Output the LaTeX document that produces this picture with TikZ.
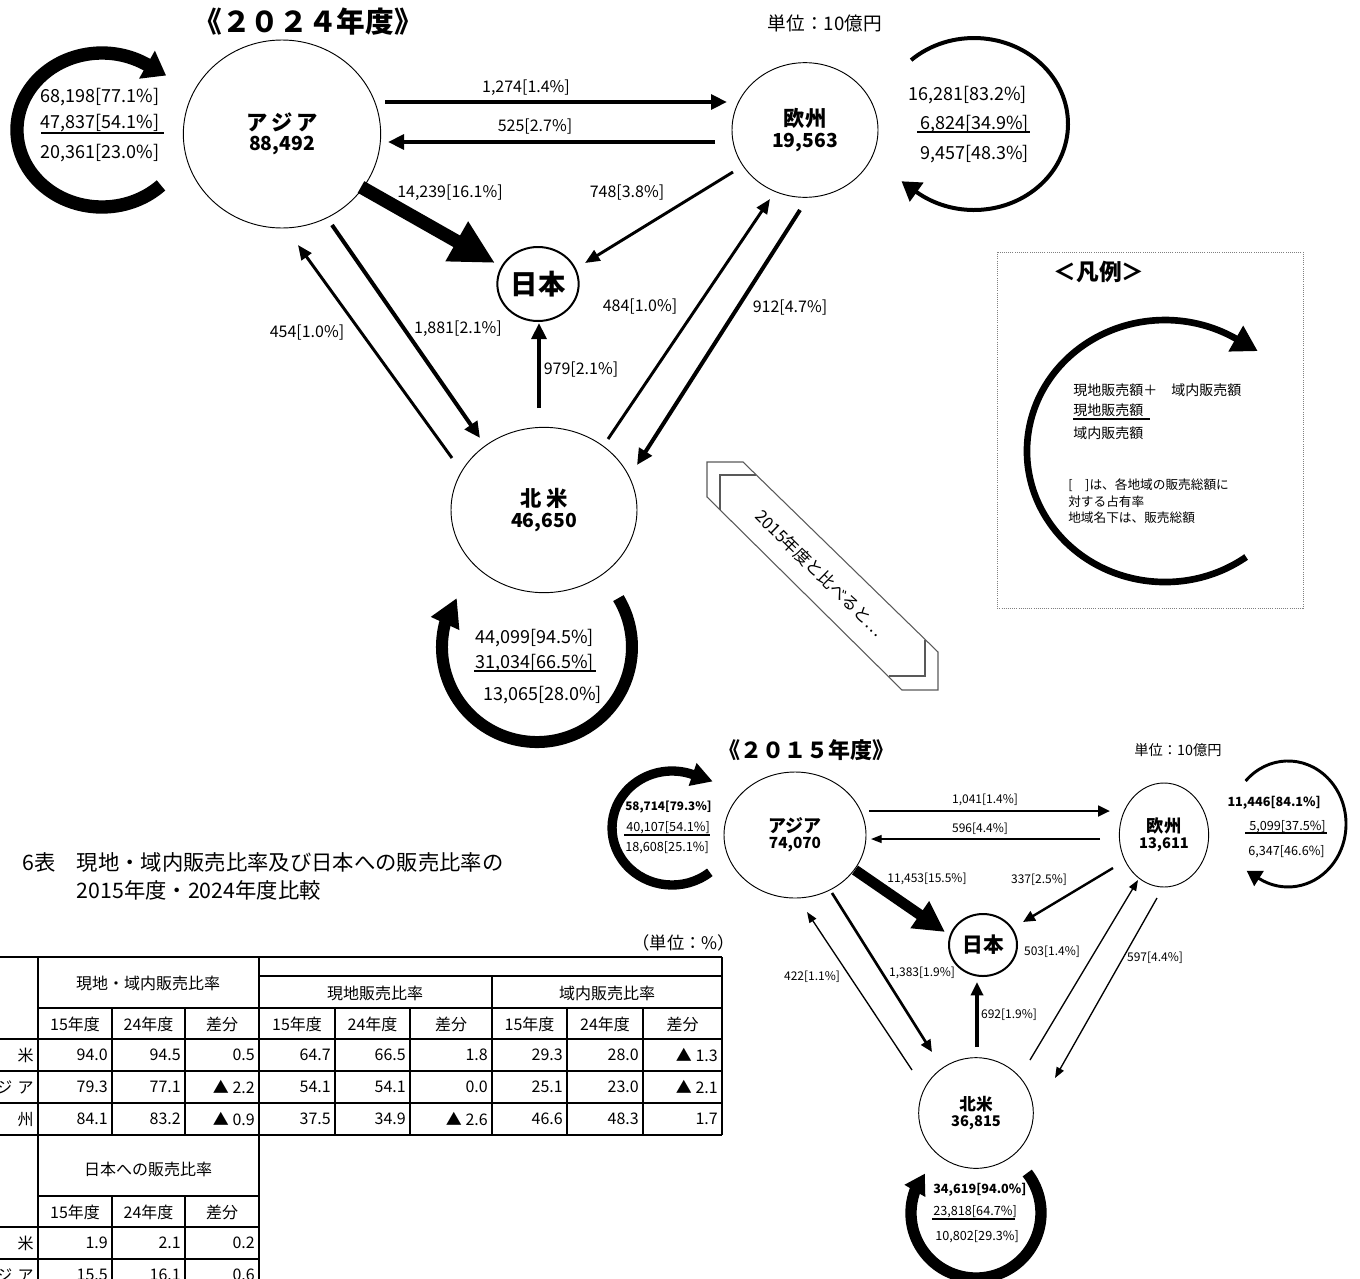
\documentclass[tikz,border=0pt]{standalone}
\usepackage{fontspec}
\setmainfont{Noto Sans CJK JP}
\usetikzlibrary{positioning,shapes.geometric,arrows.meta}
\newcommand{\setfs}[1]{\fontsize{#1}{#1}\selectfont}

\begin{document}
\begin{tikzpicture}[x=0.75pt, y=-0.75pt,
  region/.style={draw, ellipse, inner sep=0pt, align=center, line width=0.7pt},
  japan/.style={draw, ellipse, inner sep=0pt, line width=1.5pt},
  lbl/.style={inner sep=0pt, font=\setfs{12}},
  slbl/.style={inner sep=0pt, font=\setfs{9}},
  share/.style={inner sep=0pt, font=\setfs{13.5}},
  sshare/.style={inner sep=0pt, font=\setfs{9.5}},
  cell/.style={inner sep=0pt, font=\setfs{12}},
  legendtxt/.style={inner sep=0pt, anchor=west},
  flowA/.style={line width=2.2pt, -{Triangle[length=11pt,width=9pt]}},
  flowB/.style={line width=3pt, -{Triangle[length=12pt,width=11pt]}},
  flowbig/.style={line width=10pt, -{Triangle[length=33pt,width=32pt]}},
  sflowA/.style={line width=1pt, -{Triangle[length=8pt,width=6pt]}},
  sflowB/.style={line width=2pt, -{Triangle[length=9pt,width=8pt]}},
  sflowC/.style={line width=2.8pt, -{Triangle[length=10pt,width=9pt]}},
  sflowbig/.style={line width=8pt, -{Triangle[length=23pt,width=23pt]}},
  tbl/.style={line width=1.5pt}
]
\useasboundingbox (0,0) rectangle (1360,1278);

% ---- 2024 ----
\node[font=\bfseries\setfs{21.5}] (t24) at (308,22) {《２０２４年度》};
\node[font=\setfs{14}] (unit24) at (825,23) {単位：10億円};

\node[region, minimum width=148pt, minimum height=141pt] (asia) at (282,134)
  {{\bfseries\setfs{16}ア\hspace{3pt}ジ\hspace{3pt}ア}\\[3pt]{\bfseries\setfs{14.5}88,492}};
\node[region, minimum width=109.5pt, minimum height=101pt] (eu) at (805,130)
  {{\bfseries\setfs{16}欧州}\\[2pt]{\bfseries\setfs{14.5}19,563}};
\node[japan, minimum width=61pt, minimum height=55.5pt, font=\bfseries\setfs{20.5}] (jp) at (538,284) {日本};
\node[region, minimum width=139.5pt, minimum height=124pt] (na) at (544,510)
  {{\bfseries\setfs{16}北\hspace{4pt}米}\\[2pt]{\bfseries\setfs{14.5}46,650}};

% loops
\draw[line width=10pt, -{Triangle[length=16.5pt,width=23pt]}] (161,185.4)
  arc[start angle=46, end angle=302, x radius=85, y radius=77] -- ++(19.1,10.8);
\draw[line width=3pt, -{Triangle[length=14pt,width=17pt]}] (911.1,60.1)
  arc[start angle=228, end angle=488, x radius=94, y radius=86] -- ++(-14.6,-10.5);
\draw[line width=9pt, -{Triangle[length=21pt,width=22pt]}] (618.4,598.1)
  arc[start angle=329, end angle=554, radius=95] -- ++(12,-26);

\node[share] (a1) at (100,97) {68,198[77.1\%]};
\node[share] (a2) at (100,123) {47,837[54.1\%]};
\node[share] (a3) at (100,153) {20,361[23.0\%]};
\draw[line width=1.1pt] (41,133) -- (164,133);
\node[share, anchor=east] (e1) at (1027,95) {16,281[83.2\%]};
\node[share, anchor=east] (e2) at (1029,124) {6,824[34.9\%]};
\node[share, anchor=east] (e3) at (1029,154) {9,457[48.3\%]};
\draw[line width=1.1pt] (917,132) -- (1030,132);
\node[share, anchor=west] (n1) at (475,638) {44,099[94.5\%]};
\node[share, anchor=west] (n2) at (475,663) {31,034[66.5\%]};
\node[share, anchor=west] (n3) at (483,695) {13,065[28.0\%]};
\draw[line width=1.1pt] (474,671) -- (596,671);

% flows
\draw[flowB] ([shift={(103,-32)}]asia.center) -- ([shift={(-78,-28)}]eu.center);
\draw[flowB] ([shift={(-90,12)}]eu.center) -- ([shift={(106,8)}]asia.center);
\draw[flowbig] ([shift={(79,53)}]asia.center) -- ([shift={(-43,-21)}]jp.center);
\draw[flowA] ([shift={(-72,42)}]eu.center) -- ([shift={(47,-21)}]jp.center);
\draw[flowA] ([shift={(-92,-52)}]na.center) -- ([shift={(16,111)}]asia.center);
\draw[flowB] ([shift={(50,91)}]asia.center) -- ([shift={(-64,-72)}]na.center);
\draw[flowB, line width=3.5pt] ([shift={(-5,-102)}]na.center) -- ([shift={(1,39)}]jp.center);
\draw[flowA] ([shift={(64,-71)}]na.center) -- ([shift={(-35,69)}]eu.center);
\draw[flowB] ([shift={(-5,80)}]eu.center) -- ([shift={(93,-45)}]na.center);

\node[lbl] (l1) at (526,88) {1,274[1.4\%]};
\node[lbl] (l2) at (535,127) {525[2.7\%]};
\node[lbl] (l3) at (450,193) {14,239[16.1\%]};
\node[lbl] (l4) at (627,193) {748[3.8\%]};
\node[lbl] (l5) at (307,333) {454[1.0\%]};
\node[lbl] (l6) at (458,329) {1,881[2.1\%]};
\node[lbl] (l7) at (581,370) {979[2.1\%]};
\node[lbl] (l8) at (640,307) {484[1.0\%]};
\node[lbl] (l9) at (790,308) {912[4.7\%]};

% legend
\draw[densely dotted, gray, line width=0.6pt] (997,252) rectangle (1303,608);
\node[font=\bfseries\setfs{17}] (lgt) at (1099,272) {＜凡例＞};
\draw[line width=5pt, -{Triangle[length=19pt,width=21pt]}] (1246.1,557)
  arc[start angle=54, end angle=301, x radius=138, y radius=131] -- ++(21.7,12.4);
\node[legendtxt, font=\setfs{10.5}] (lg1) at (1073,390) {現地販売額＋　域内販売額};
\node[legendtxt, font=\setfs{10.5}] (lg2) at (1073,410) {現地販売額};
\draw[line width=0.8pt] (1073,419) -- (1150,419);
\node[legendtxt, font=\setfs{10.5}] (lg3) at (1073,433) {域内販売額};
\node[legendtxt, font=\setfs{9.5}] (lg4) at (1068,485) {[　]は、各地域の販売総額に};
\node[legendtxt, font=\setfs{9.5}] (lg5) at (1068,502) {対する占有率};
\node[legendtxt, font=\setfs{9.5}] (lg6) at (1068,518) {地域名下は、販売総額};

% banner
\draw[gray!70!black, line width=0.8pt] (707,462) -- (743,462) -- (938,652) -- (938,690)
  -- (902,690) -- (707,497) -- cycle;
\draw[gray!70!black, line width=0.8pt] (756,475) -- (720,475) -- (720,510);
\draw[gray!70!black, line width=0.8pt] (925,640) -- (925,676) -- (889,676);
\node[rotate=-44.4, font=\setfs{12.5}] (cmp) at (820,573) {2015年度と比べると…};

% ---- 2015 ----
\node[font=\bfseries\setfs{16.5}] (t15) at (806,750) {《２０１５年度》};
\node[font=\setfs{10.7}] (unit15) at (1178,750) {単位：10億円};

\node[region, minimum width=106.5pt, minimum height=94.5pt] (asia2) at (795,835)
  {{\bfseries\setfs{13.5}アジア}\\[0pt]{\bfseries\setfs{11.5}74,070}};
\node[region, minimum width=67pt, minimum height=78pt] (eu2) at (1164,835)
  {{\bfseries\setfs{13}欧州}\\[0pt]{\bfseries\setfs{11}13,611}};
\node[japan, minimum width=51pt, minimum height=46.5pt, font=\bfseries\setfs{15.5}] (jp2) at (983,945) {日本};
\node[region, minimum width=86pt, minimum height=83pt] (na2) at (976,1113)
  {{\bfseries\setfs{12.5}北米}\\[0pt]{\bfseries\setfs{11}36,815}};

\draw[line width=7pt, -{Triangle[length=16pt,width=17pt]}] (709.8,872.3)
  arc[start angle=51, end angle=290, x radius=60, y radius=57] -- ++(20.2,7);
\draw[line width=2.2pt, -{Triangle[length=11pt,width=13pt]}] (1245.6,781)
  arc[start angle=223, end angle=480, x radius=58, y radius=63] -- ++(-12.4,-7.8);
\draw[line width=8.5pt, -{Triangle[length=15pt,width=17pt]}] (1027.2,1173)
  arc[start angle=322, end angle=560, radius=65] -- ++(10,-17.2);

\node[sshare, font=\bfseries\setfs{8.8}, anchor=west] (a21) at (625,807) {58,714[79.3\%]};
\node[sshare, anchor=west] (a22) at (626,828) {40,107[54.1\%]};
\node[sshare, anchor=west] (a23) at (625,848) {18,608[25.1\%]};
\draw[line width=0.8pt] (624,835) -- (710,835);
\node[sshare, font=\bfseries\setfs{9.5}, anchor=east] (e21) at (1321,803) {11,446[84.1\%]};
\node[sshare, anchor=east] (e22) at (1326,827) {5,099[37.5\%]};
\node[sshare, anchor=east] (e23) at (1325,852) {6,347[46.6\%]};
\draw[line width=0.8pt] (1245,833) -- (1327,833);
\node[sshare, font=\bfseries\setfs{9.5}, anchor=west] (n21) at (933,1190) {34,619[94.0\%]};
\node[sshare, anchor=west] (n22) at (933,1212) {23,818[64.7\%]};
\node[sshare, anchor=west] (n23) at (935,1237) {10,802[29.3\%]};
\draw[line width=0.8pt] (932,1219) -- (1015,1219);

\draw[sflowB] ([shift={(74,-24)}]asia2.center) -- ([shift={(-54,-24)}]eu2.center);
\draw[sflowA] ([shift={(-64,4)}]eu2.center) -- ([shift={(76,4)}]asia2.center);
\draw[sflowbig] ([shift={(60,35)}]asia2.center) -- ([shift={(-38,-13)}]jp2.center);
\draw[sflowB, line width=1.8pt] ([shift={(-51,33)}]eu2.center) -- ([shift={(40,-23)}]jp2.center);
\draw[sflowA] ([shift={(-64,-43)}]na2.center) -- ([shift={(12,77)}]asia2.center);
\draw[sflowB] ([shift={(37,58)}]asia2.center) -- ([shift={(-44,-61)}]na2.center);
\draw[sflowC] ([shift={(1,-66)}]na2.center) -- ([shift={(-6,37)}]jp2.center);
\draw[sflowA] ([shift={(54,-53)}]na2.center) -- ([shift={(-26,45)}]eu2.center);
\draw[sflowA] ([shift={(-7,63)}]eu2.center) -- ([shift={(79,-35)}]na2.center);

\node[slbl] (m1) at (985,800) {1,041[1.4\%]};
\node[slbl] (m2) at (980,829) {596[4.4\%]};
\node[slbl] (m3) at (927,879) {11,453[15.5\%]};
\node[slbl] (m4) at (1039,880) {337[2.5\%]};
\node[slbl] (m5) at (812,977) {422[1.1\%]};
\node[slbl] (m6) at (922,973) {1,383[1.9\%]};
\node[slbl] (m7) at (1009,1015) {692[1.9\%]};
\node[slbl] (m8) at (1052,952) {503[1.4\%]};
\node[slbl] (m9) at (1155,958) {597[4.4\%]};

% ---- table ----
\node[anchor=west, font=\setfs{16}] (tno) at (18,862) {6表};
\node[anchor=west, font=\setfs{16}] (tt1) at (72,862) {現地・域内販売比率及び日本への販売比率の};
\node[anchor=west, font=\setfs{16}] (tt2) at (72,890) {2015年度・2024年度比較};
\node[anchor=east, font=\setfs{13}] (tunit) at (740,943) {（単位：\%）};

\draw[tbl] (-5,957) -- (722,957);
\draw[tbl] (259,976) -- (722,976);
\draw[tbl] (38,1008) -- (722,1008);
\foreach \y in {1039,1071,1103,1135} \draw[tbl] (-5,\y) -- (722,\y);
\draw[tbl] (38,1196) -- (259,1196);
\foreach \y in {1227,1259} \draw[tbl] (-5,\y) -- (259,\y);
\draw[tbl] (38,957) -- (38,1290);
\draw[tbl] (259,957) -- (259,1290);
\draw[tbl] (722,957) -- (722,1135);
\draw[tbl] (492,976) -- (492,1135);
\foreach \x in {335,410,567,643} \draw[tbl] (\x,1008) -- (\x,1135);
\foreach \x in {112,185} \draw[tbl] (\x,1008) -- (\x,1135) (\x,1196) -- (\x,1290);

\node[cell] (h1) at (148,983) {現地・域内販売比率};
\node[cell] (h2) at (375,993) {現地販売比率};
\node[cell] (h3) at (607,993) {域内販売比率};
\node[cell] (h4) at (148,1169) {日本への販売比率};
\foreach \a/\b/\t in {38/112/15年度,112/185/24年度,185/259/差分,259/335/15年度,335/410/24年度,
    410/492/差分,492/567/15年度,567/643/24年度,643/722/差分}
  \node[cell] (s\a) at ({(\a+\b)/2},1024) {\t};
\foreach \a/\b/\t in {38/112/15年度,112/185/24年度,185/259/差分}
  \node[cell] (u\a) at ({(\a+\b)/2},1212) {\t};

\node[cell, anchor=east] (r1) at (34,1055) {北\hspace{16pt}米};
\node[cell, anchor=east] (r2) at (34,1087) {ア\hspace{4pt}ジ\hspace{4pt}ア};
\node[cell, anchor=east] (r3) at (34,1119) {欧\hspace{16pt}州};
\node[cell, anchor=east] (r4) at (34,1243) {北\hspace{16pt}米};
\node[cell, anchor=east] (r5) at (34,1275) {ア\hspace{4pt}ジ\hspace{4pt}ア};

\foreach \x/\v in {112/94.0,185/94.5,259/0.5,335/64.7,410/66.5,492/1.8,567/29.3,643/28.0,722/▲ 1.3}
  \node[cell, anchor=east] (p\x) at (\x-4,1055) {\v};
\foreach \x/\v in {112/79.3,185/77.1,259/▲ 2.2,335/54.1,410/54.1,492/0.0,567/25.1,643/23.0,722/▲ 2.1}
  \node[cell, anchor=east] (q\x) at (\x-4,1087) {\v};
\foreach \x/\v in {112/84.1,185/83.2,259/▲ 0.9,335/37.5,410/34.9,492/▲ 2.6,567/46.6,643/48.3,722/1.7}
  \node[cell, anchor=east] (w\x) at (\x-4,1119) {\v};
\foreach \x/\v in {112/1.9,185/2.1,259/0.2}
  \node[cell, anchor=east] (j\x) at (\x-4,1243) {\v};
\foreach \x/\v in {112/15.5,185/16.1,259/0.6}
  \node[cell, anchor=east] (k\x) at (\x-4,1275) {\v};

\end{tikzpicture}
\end{document}
